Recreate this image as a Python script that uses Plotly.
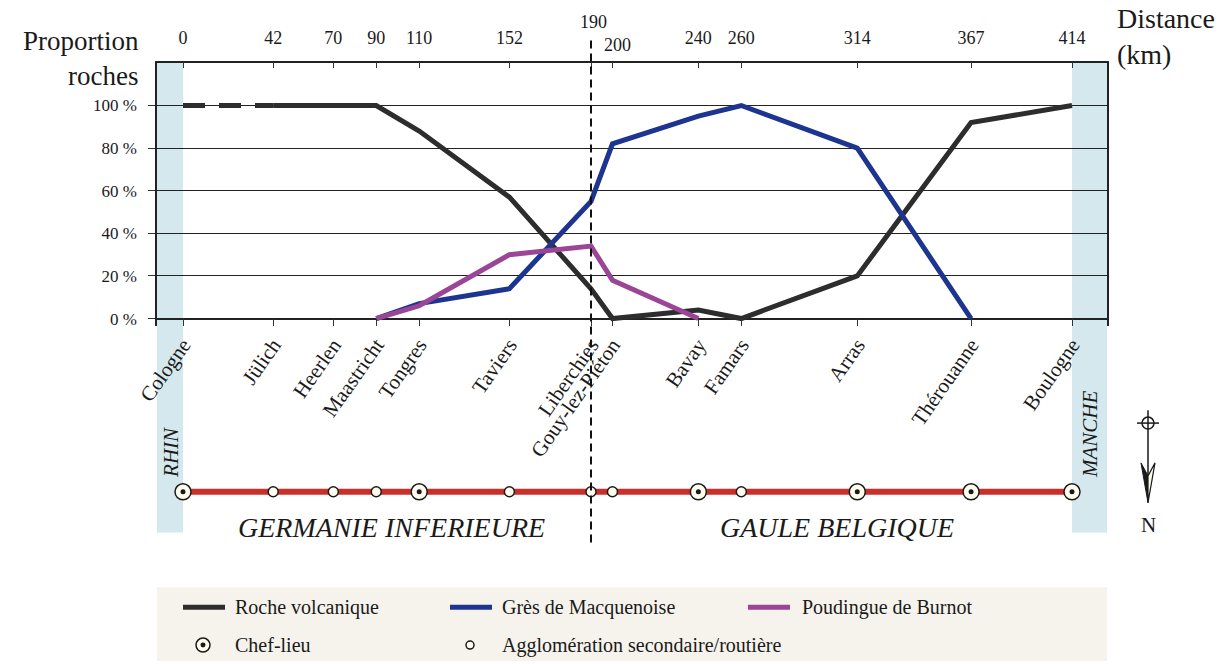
import plotly.graph_objects as go

# ---- data -------------------------------------------------------------
DIST_KM = [0, 42, 70, 90, 110, 152, 190, 200, 240, 260, 314, 367, 414]
SITES = ["Cologne", "Jülich", "Heerlen", "Maastricht", "Tongres", "Taviers",
         "Liberchies", "Gouy-lez-Piéton", "Bavay", "Famars", "Arras",
         "Thérouanne", "Boulogne"]
CHEF_LIEU = [True, False, False, False, True, False, False, False,
             True, False, True, True, True]

VOLCANIQUE = [100, 100, 100, 100, 88, 57, 14, 0, 4, 0, 20, 92, 100]
MACQUENOISE = [None, None, None, 0, 7, 14, 55, 82, 95, 100, 80, 0, None]
BURNOT = [None, None, None, 0, 6, 30, 34, 18, 0, None, None, None, None]

Y_TICKS = [0, 20, 40, 60, 80, 100]
Y_TICK_LABELS = [f"{v} %" for v in Y_TICKS]
BORDER_KM = 190  # limit between the two provinces
NEXT_KM = 200    # first site past the border, labelled separately

# ---- geometry ---------------------------------------------------------
W, H = 1219, 664
ML, MR = 157, 112
PW = W - ML - MR
X0_PX, X1_PX = 183, 1072          # pixel position of first / last site
KM_PX = (X1_PX - X0_PX) / DIST_KM[-1]
X_RANGE = [(ML - X0_PX) / KM_PX, (W - MR - X0_PX) / KM_PX]
ZERO_PX, PCT_PX = 320, 2.14
TOP_PX, BOT_PX = 63, 327
Y_RANGE = [(ZERO_PX - BOT_PX) / PCT_PX, (ZERO_PX - TOP_PX) / PCT_PX]


def fx(px):
    return (px - ML) / PW


def fy(py):
    return 1 - py / H


FONT = "Liberation Serif"
INK = "#1a1a1a"
C_VOLC = "#2d2d2d"
C_MACQ = "#1d3590"
C_BURN = "#9b4596"
C_ROUTE = "#c9302b"
C_BAND = "#d4e8ee"
C_CREAM = "#fffdf0"

fig = go.Figure()

# proportion curves
fig.add_trace(go.Scatter(x=DIST_KM[:2], y=VOLCANIQUE[:2], mode="lines",
                         line=dict(color=C_VOLC, width=5, dash="22px,14px"),
                         showlegend=False, hoverinfo="skip"))
fig.add_trace(go.Scatter(x=DIST_KM[1:], y=VOLCANIQUE[1:], mode="lines",
                         name="Roche volcanique",
                         line=dict(color=C_VOLC, width=5)))
fig.add_trace(go.Scatter(x=DIST_KM, y=MACQUENOISE, mode="lines",
                         name="Grès de Macquenoise",
                         line=dict(color=C_MACQ, width=5)))
fig.add_trace(go.Scatter(x=DIST_KM, y=BURNOT, mode="lines",
                         name="Poudingue de Burnot",
                         line=dict(color=C_BURN, width=5)))
# carrier for the top distance axis
fig.add_trace(go.Scatter(x=DIST_KM, y=[None] * len(DIST_KM), xaxis="x2",
                         mode="lines", showlegend=False, hoverinfo="skip"))

# route with the sites
zeros = [0] * len(DIST_KM)
chef_x = [d for d, c in zip(DIST_KM, CHEF_LIEU) if c]
sec_x = [d for d, c in zip(DIST_KM, CHEF_LIEU) if not c]
fig.add_trace(go.Scatter(x=DIST_KM, y=zeros, yaxis="y2", mode="lines",
                         line=dict(color=C_ROUTE, width=6),
                         showlegend=False, hoverinfo="skip"))
fig.add_trace(go.Scatter(x=sec_x, y=[0] * len(sec_x), yaxis="y2", mode="markers",
                         name="Agglomération secondaire/routière",
                         marker=dict(symbol="circle", size=10, color=C_CREAM,
                                     line=dict(color=INK, width=1.5)),
                         cliponaxis=False))
fig.add_trace(go.Scatter(x=chef_x, y=[0] * len(chef_x), yaxis="y2", mode="markers",
                         name="Chef-lieu",
                         marker=dict(symbol="circle", size=16, color=C_CREAM,
                                     line=dict(color=INK, width=1.5)),
                         cliponaxis=False))
fig.add_trace(go.Scatter(x=chef_x, y=[0] * len(chef_x), yaxis="y2", mode="markers",
                         marker=dict(symbol="circle", size=5, color=INK),
                         showlegend=False, hoverinfo="skip", cliponaxis=False))

shapes = []
# river / sea bands at both ends
for a, b in [(X_RANGE[0], DIST_KM[0]), (DIST_KM[-1], X_RANGE[1])]:
    shapes.append(dict(type="rect", xref="x", yref="paper", x0=a, x1=b,
                       y0=fy(535), y1=fy(TOP_PX), fillcolor=C_BAND,
                       line=dict(width=0), layer="between"))
# provincial border
shapes.append(dict(type="line", xref="x", yref="paper", x0=BORDER_KM, x1=BORDER_KM,
                   y0=fy(545), y1=fy(40), line=dict(color="#111", width=2, dash="8px,5px"),
                   layer="above"))

# north arrow
NX = 1148
shapes += [
    dict(type="circle", xref="paper", yref="paper", x0=fx(NX - 6), x1=fx(NX + 6),
         y0=fy(431), y1=fy(419), line=dict(color=INK, width=1.5)),
    dict(type="line", xref="paper", yref="paper", x0=fx(NX - 11), x1=fx(NX + 11),
         y0=fy(425), y1=fy(425), line=dict(color=INK, width=1.5)),
    dict(type="line", xref="paper", yref="paper", x0=fx(NX), x1=fx(NX),
         y0=fy(412), y1=fy(480), line=dict(color=INK, width=1.5)),
    dict(type="path", xref="paper", yref="paper",
         path=(f"M{fx(NX - 7)},{fy(465)} L{fx(NX)},{fy(505)} L{fx(NX)},{fy(478)} Z"),
         fillcolor=INK, line=dict(color=INK, width=1)),
    dict(type="path", xref="paper", yref="paper",
         path=(f"M{fx(NX + 7)},{fy(465)} L{fx(NX)},{fy(505)} L{fx(NX)},{fy(478)} Z"),
         fillcolor=C_CREAM, line=dict(color=INK, width=1.2)),
]

# legend box
shapes.append(dict(type="rect", xref="paper", yref="paper", x0=fx(157), x1=fx(1107),
                   y0=fy(664), y1=fy(590), fillcolor="#f6f3ec", line=dict(width=0),
                   layer="below"))
LEG_ROW1, LEG_ROW2 = 610, 648
for (x_a, col) in [(183, C_VOLC), (450, C_MACQ), (748, C_BURN)]:
    shapes.append(dict(type="line", xref="paper", yref="paper", x0=fx(x_a), x1=fx(x_a + 42),
                       y0=fy(LEG_ROW1), y1=fy(LEG_ROW1), line=dict(color=col, width=5)))
shapes += [
    dict(type="circle", xref="paper", yref="paper", x0=fx(196), x1=fx(210),
         y0=fy(LEG_ROW2 + 7), y1=fy(LEG_ROW2 - 7), fillcolor=C_CREAM,
         line=dict(color=INK, width=1.5)),
    dict(type="circle", xref="paper", yref="paper", x0=fx(200.5), x1=fx(205.5),
         y0=fy(LEG_ROW2 + 2.5), y1=fy(LEG_ROW2 - 2.5), fillcolor=INK,
         line=dict(color=INK, width=0)),
    dict(type="circle", xref="paper", yref="paper", x0=fx(466), x1=fx(474),
         y0=fy(LEG_ROW2 + 4), y1=fy(LEG_ROW2 - 4), fillcolor=C_CREAM,
         line=dict(color=INK, width=1.5)),
]

ann = []


def text(s, px, py, size, xanchor="center", textangle=0, align="center"):
    ann.append(dict(text=s, xref="paper", yref="paper", x=fx(px), y=fy(py),
                    xanchor=xanchor, yanchor="middle", showarrow=False, align=align,
                    textangle=textangle, font=dict(family=FONT, size=size, color=INK)))


text("Proportion<br>roches", 141, 59, 27, "right", align="right")
text("Distance<br>(km)", 1115, 37, 28, "left", align="left")
# the two close distance labels around the border are staggered
ann.append(dict(text=str(BORDER_KM), xref="x", yref="paper", x=BORDER_KM, y=fy(22),
                xshift=2, yanchor="middle", showarrow=False,
                font=dict(family=FONT, size=18, color=INK)))
ann.append(dict(text=str(NEXT_KM), xref="x", yref="paper", x=NEXT_KM, y=fy(45),
                xshift=5, yanchor="middle", showarrow=False,
                font=dict(family=FONT, size=18, color=INK)))
text("<i>RHIN</i>", 171, 455, 21, textangle=-90)
text("<i>MANCHE</i>", 1090, 436, 21, textangle=-90)
text("<i>GERMANIE INFERIEURE</i>", 391, 530, 28)
text("<i>GAULE BELGIQUE</i>", 837, 530, 28)
text("N", NX, 527, 21)
for label, px in [("Roche volcanique", 233), ("Grès de Macquenoise", 500),
                  ("Poudingue de Burnot", 800)]:
    text(label, px, LEG_ROW1, 20, "left")
for label, px in [("Chef-lieu", 233), ("Agglomération secondaire/routière", 500)]:
    text(label, px, LEG_ROW2, 20, "left")

fig.update_layout(
    width=W, height=H,
    margin=dict(l=ML, r=MR, t=0, b=0),
    paper_bgcolor="white", plot_bgcolor="rgba(0,0,0,0)",
    showlegend=False,
    font=dict(family=FONT, color=INK),
    xaxis=dict(range=X_RANGE, tickmode="array", tickvals=DIST_KM, ticktext=SITES,
               tickangle=-55, ticks="inside", ticklen=7, tickcolor="#333",
               showline=False, showgrid=False, zeroline=False, anchor="y",
               tickfont=dict(family=FONT, size=21, color=INK), ticklabelstandoff=2),
    xaxis2=dict(range=X_RANGE, overlaying="x", side="top", anchor="y",
                tickmode="array", tickvals=DIST_KM,
                ticktext=["" if d in (BORDER_KM, NEXT_KM) else str(d) for d in DIST_KM],
                ticks="inside", ticklen=6, tickcolor="#333",
                showline=True, linecolor="#222", linewidth=1.5,
                showgrid=False, zeroline=False,
                tickfont=dict(family=FONT, size=18, color=INK), ticklabelstandoff=10),
    yaxis=dict(domain=[fy(BOT_PX), fy(TOP_PX)], range=Y_RANGE,
               tickmode="array", tickvals=Y_TICKS, ticktext=Y_TICK_LABELS,
               ticks="outside", ticklen=7, tickcolor="#333",
               showline=True, mirror=True, linecolor="#222", linewidth=1.5,
               showgrid=True, gridcolor="#222", gridwidth=1,
               zeroline=True, zerolinecolor="#222", zerolinewidth=1.5,
               tickfont=dict(family=FONT, size=17, color=INK), ticklabelstandoff=8),
    yaxis2=dict(domain=[fy(508), fy(480)], range=[-1, 1], anchor="x",
                visible=False, fixedrange=True),
    shapes=shapes,
    annotations=ann,
)

fig.write_html("out.html")
